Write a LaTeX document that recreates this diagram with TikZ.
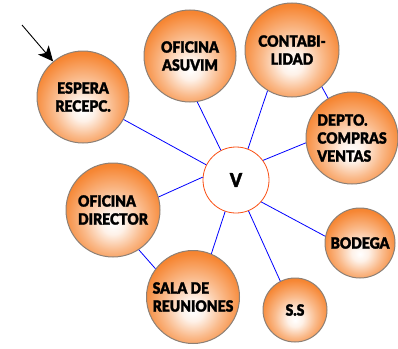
\documentclass[tikz,border=0pt]{standalone}
\usepackage{fontspec}
\setmainfont{Lato}
\newfontfamily\roomfont{Lato Black}[FakeStretch=0.9, FakeBold=1.5]
\usetikzlibrary{arrows.meta, positioning}
\definecolor{ballorange}{RGB}{245,118,24}
\definecolor{balledge}{RGB}{140,128,118}
\definecolor{vred}{RGB}{250,80,20}
\pgfdeclareradialshading{orangeball}{\pgfpoint{0bp}{-8bp}}{%
	color(0bp)=(white); color(6bp)=(white!90!ballorange); color(16bp)=(white!50!ballorange);
	color(27bp)=(white!12!ballorange); color(36bp)=(ballorange); color(50bp)=(ballorange!95!black)}
\tikzset{
	room/.style={circle, draw=balledge, line width=1pt, shading=orangeball, minimum size=#1, inner sep=0pt, align=center, font=\fontsize{15.5}{18}\roomfont},
	hub/.style={circle, draw=vred, line width=0.8pt, fill=white, minimum size=#1, inner sep=0pt, font=\fontsize{19}{20}\roomfont},
	link/.style={draw=blue, line width=0.8pt},
	pointer/.style={-{Stealth[length=15pt, width=14pt, inset=4pt]}, line width=0.9pt},
}
\begin{document}
\begin{tikzpicture}[x=1pt, y=-1pt]
	\useasboundingbox (0,0) rectangle (398,348);
	% hub and rooms
	\node[hub=66] (v) at (236,180) {V};
	\node[room=92] (espera) at (83,97) {ESPERA\\RECEPC.};
	\node[room=92] (asuvim) at (190,56) {OFICINA\\ASUVIM};
	\node[room=94] (contab) at (292,50) {CONTABI-\\LIDAD};
	\node[room=92, align=left] (depto) at (352,138) {DEPTO.\\COMPRAS\\VENTAS};
	\node[room=94, align=left] (director) at (113,210) {OFICINA\\DIRECTOR};
	\node[room=93, align=left] (sala) at (193,297) {SALA DE\\REUNIONES};
	\node[room=64] (ss) at (295,310) {S.S};
	\node[room=70] (bodega) at (360,243) {BODEGA};
	% links
	\draw[link] (v.153) -- (espera.-29);
	\draw[link] (v.117) -- (asuvim.-81);
	\draw[link] (v.69) -- (contab.-121);
	\draw[link] (v.36) -- (depto.186);
	\draw[link] (v.175) -- (director.16);
	\draw[link] (v.-109) -- (sala.67);
	\draw[link] (v.-68) -- (ss.117);
	\draw[link] (v.-41) -- (bodega.169);
	\draw[link] (director.-57) -- (sala.143);
	\draw[link] (contab.-51) -- (depto.121);
	% entrance
	\coordinate (entry) at (22,25);
	\draw[pointer] (entry) -- (espera.130);
\end{tikzpicture}
\end{document}
